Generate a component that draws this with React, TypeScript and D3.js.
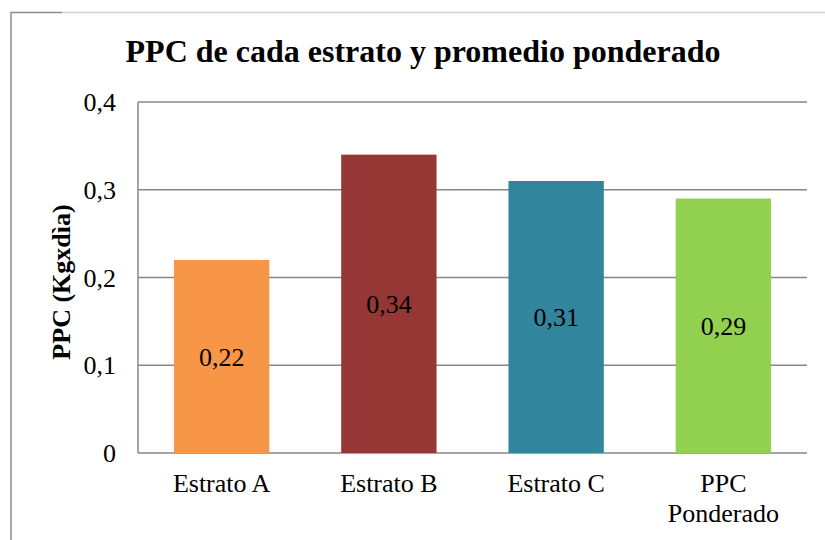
import React from 'react';
import * as d3 from 'd3';

const categories = ['Estrato A', 'Estrato B', 'Estrato C', 'PPC Ponderado'];
const categoryLines = [['Estrato A'], ['Estrato B'], ['Estrato C'], ['PPC', 'Ponderado']];
const values = [0.22, 0.34, 0.31, 0.29];
const valueLabels = ['0,22', '0,34', '0,31', '0,29'];
const barColors = ['#F79646', '#953735', '#31859C', '#92D050'];
const yTicks = [0, 0.1, 0.2, 0.3, 0.4];

const W = 825;
const H = 540;
const plot = { left: 138, right: 807, top: 102, bottom: 453 };
const font = 'Liberation Serif';
const fmt = (v: number) => (v === 0 ? '0' : d3.format('.1f')(v).replace('.', ','));

const App = () => {
  const x = d3.scaleBand().domain(categories).range([plot.left, plot.right]).paddingInner(0.43).paddingOuter(0.215);
  const y = d3.scaleLinear().domain([0, 0.4]).range([plot.bottom, plot.top]);

  return (
    <svg width={W} height={H} style={{ position: 'absolute', left: 0, top: 0, background: '#fff' }}>
      {/* outer frame, only partly visible in the crop */}
      <line x1={11} y1={12} x2={11} y2={H} stroke="#8a8a8a" strokeWidth={1.5} />
      <line x1={11} y1={12.5} x2={62} y2={12.5} stroke="#8a8a8a" strokeWidth={1.5} />
      <line x1={62} y1={12.5} x2={W} y2={12.5} stroke="#cfcfcf" strokeWidth={1.5} />

      <text x={423} y={62} textAnchor="middle" fontFamily={font} fontWeight="bold" fontSize={32}>
        PPC de cada estrato y promedio ponderado
      </text>

      {yTicks.map((t) => (
        <g key={t}>
          <line x1={plot.left} x2={plot.right} y1={y(t)} y2={y(t)} stroke="#878787" strokeWidth={1.5} />
          <text x={116} y={y(t)} dy="0.35em" textAnchor="end" fontFamily={font} fontSize={26}>
            {fmt(t)}
          </text>
        </g>
      ))}
      <line x1={plot.left} x2={plot.left} y1={plot.top} y2={plot.bottom} stroke="#878787" strokeWidth={1.5} />

      {categories.map((c, i) => (
        <g key={c}>
          <rect x={x(c)} y={y(values[i])} width={x.bandwidth()} height={y(0) - y(values[i])} fill={barColors[i]} />
          <text
            x={(x(c) as number) + x.bandwidth() / 2}
            y={(y(values[i]) + y(0)) / 2}
            dy="0.35em"
            textAnchor="middle"
            fontFamily={font}
            fontSize={26}
          >
            {valueLabels[i]}
          </text>
          {categoryLines[i].map((ln, j) => (
            <text
              key={ln}
              x={(x(c) as number) + x.bandwidth() / 2}
              y={492 + j * 30}
              textAnchor="middle"
              fontFamily={font}
              fontSize={26}
            >
              {ln}
            </text>
          ))}
        </g>
      ))}

      <text
        transform="translate(70, 282) rotate(-90)"
        textAnchor="middle"
        fontFamily={font}
        fontWeight="bold"
        fontSize={26}
      >
        PPC (Kgxdìa)
      </text>
    </svg>
  );
};

export default App;
